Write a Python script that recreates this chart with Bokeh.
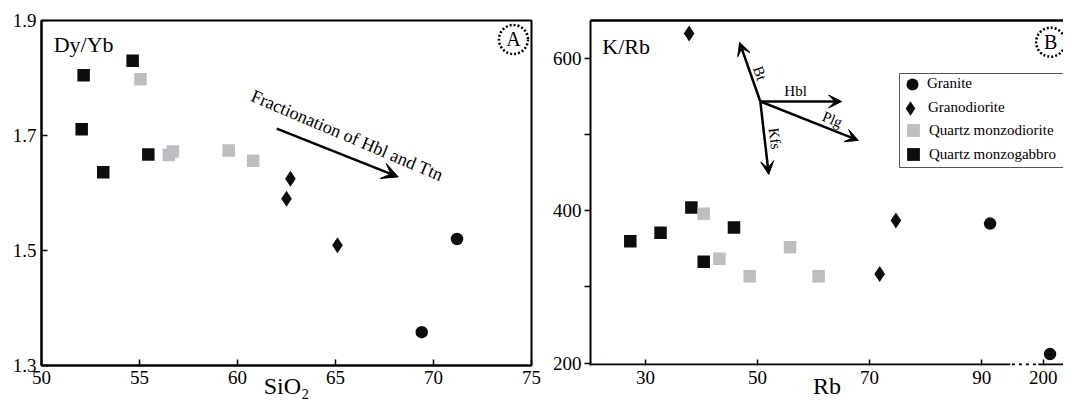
from bokeh.plotting import figure
from bokeh.models import (Range1d, FixedTicker, LinearAxis, Arrow, VeeHead,
                          Legend, LegendItem, BoxAnnotation)
from bokeh.layouts import row
from bokeh.embed import file_html
from bokeh.resources import INLINE
from bokeh.core.properties import value

SERIF = "Liberation Serif"
BLACK = "#0d0d0d"
GRAY = "#bdbec2"

# ---------------- Panel A : Dy/Yb vs SiO2 ----------------
a_granite_sio2 = [71.2, 69.4]
a_granite_dyyb = [1.520, 1.358]
a_grano_sio2 = [62.7, 62.5, 65.1]
a_grano_dyyb = [1.625, 1.590, 1.509]
a_qmd_sio2 = [55.05, 56.5, 56.7, 59.55, 60.8]
a_qmd_dyyb = [1.798, 1.666, 1.672, 1.674, 1.656]
a_qmg_sio2 = [52.15, 54.65, 52.05, 53.15, 55.45]
a_qmg_dyyb = [1.805, 1.830, 1.711, 1.636, 1.667]
a_xticks = [50, 55, 60, 65, 70, 75]
a_yticks = [1.3, 1.5, 1.7, 1.9]
a_trend_start = (62.0, 1.712)
a_trend_end = (68.2, 1.628)

# ---------------- Panel B : K/Rb vs Rb (broken axis) ----------------
b_granite_rb = [91.5, 201.2]
b_granite_krb = [383, 212]
b_grano_rb = [37.8, 74.7, 71.8]
b_grano_krb = [632, 387, 317]
b_qmd_rb = [40.4, 43.2, 48.6, 55.8, 60.9]
b_qmd_krb = [396, 337, 314, 352, 314]
b_qmg_rb = [27.3, 32.7, 38.2, 45.8, 40.4]
b_qmg_krb = [360, 371, 404, 378, 333]
b_xticks = [30, 50, 70, 90, 200]
b_yticks = [200, 300, 400, 500, 600]
b_ylabels = {200: "200", 300: "", 400: "400", 500: "", 600: "600"}
# mineral fractionation vectors: origin and end points (Rb, K/Rb)
vec_origin = (50.5, 543)
vec_names = ["Bt", "Hbl", "Plg", "Kfs"]
vec_end_rb = [46.8, 65.0, 68.0, 52.0]
vec_end_krb = [620.6, 543, 492, 447.5]
vec_lab_rb = [50.4, 56.8, 63.35, 53.1]
vec_lab_krb = [580, 557, 519.6, 494.5]
vec_lab_angle = [-70, 0, -22, -83]

BREAK_OFFSET = 99  # Rb values above the break are shifted: 200 -> 101


def rb_t(v):
    return v if v < 100 else v - BREAK_OFFSET


def style_axis(ax, size="19px"):
    ax.major_label_text_font = SERIF
    ax.major_label_text_font_size = size
    ax.major_label_text_color = "black"
    ax.axis_label_text_font = SERIF
    ax.axis_label_text_font_size = "24px"
    ax.axis_label_text_font_style = "normal"
    ax.axis_label_text_color = "black"
    ax.axis_line_width = 2
    ax.axis_line_color = "black"
    ax.major_tick_line_width = 1.5
    ax.major_tick_line_color = "black"
    ax.minor_tick_line_color = None


H = 401

# ================= Figure A =================
pA = figure(width=549, height=H, x_range=Range1d(50, 75), y_range=Range1d(1.3, 1.9),
            output_backend="svg", toolbar_location=None,
            min_border_left=41, min_border_right=18, min_border_top=20, min_border_bottom=0)
pA.grid.visible = False
pA.outline_line_color = "black"
pA.outline_line_width = 2
pA.background_fill_color = "white"

style_axis(pA.xaxis[0])
style_axis(pA.yaxis[0])
pA.xaxis[0].ticker = FixedTicker(ticks=a_xticks)
pA.yaxis[0].ticker = FixedTicker(ticks=a_yticks)
pA.yaxis[0].major_label_overrides = {t: f"{t:.1f}" for t in a_yticks}
for ax in (pA.xaxis[0], pA.yaxis[0]):
    ax.major_tick_in = 6
    ax.major_tick_out = 0
pA.xaxis[0].major_label_standoff = 5
pA.yaxis[0].major_label_standoff = 5
pA.xaxis[0].axis_label = "SiO₂"
pA.xaxis[0].axis_label_standoff = -14

pA.scatter(a_qmg_sio2, a_qmg_dyyb, marker="square", size=12.5, fill_color=BLACK, line_color=None)
pA.scatter(a_qmd_sio2, a_qmd_dyyb, marker="square", size=12.5, fill_color=GRAY, line_color=None)
pA.scatter(a_grano_sio2, a_grano_dyyb, marker="diamond", size=16, fill_color=BLACK, line_color=None)
pA.scatter(a_granite_sio2, a_granite_dyyb, marker="circle", size=12.5, fill_color=BLACK, line_color=None)

pA.text(x=[50.62], y=[1.859], text=["Dy/Yb"], text_font=value(SERIF), text_font_size="22px",
        text_baseline="middle", text_align="left", text_color="black")
pA.text(x=[65.6], y=[1.700], text=["Fractionation of Hbl and Ttn"], angle=-23, angle_units="deg",
        text_font=value(SERIF), text_font_size="18px", text_baseline="middle", text_align="center",
        text_color="black")
pA.add_layout(Arrow(end=VeeHead(size=16, fill_color="black", line_color="black"),
                    x_start=a_trend_start[0], y_start=a_trend_start[1],
                    x_end=a_trend_end[0], y_end=a_trend_end[1], line_width=2.5, line_color="black"))
# circled panel letter
pA.scatter([74.08], [1.867], marker="circle", size=29, fill_color=None, line_color="black",
           line_width=2.5, line_dash="2 2")
pA.text(x=[74.08], y=[1.867], text=["A"], text_font=value(SERIF), text_font_size="20px",
        text_baseline="middle", text_align="center", text_color="black")

# ================= Figure B =================
x0, x1 = 20.2, 104.6
y0, y1 = 197.0, 649.2
pB = figure(width=514, height=H, x_range=Range1d(x0, x1), y_range=Range1d(y0, y1),
            output_backend="svg", toolbar_location=None,
            min_border_left=40, min_border_right=0, min_border_top=20, min_border_bottom=0)
pB.grid.visible = False
pB.outline_line_color = None

style_axis(pB.xaxis[0])
style_axis(pB.yaxis[0])
bx_t = [rb_t(v) for v in b_xticks]
pB.xaxis[0].ticker = FixedTicker(ticks=bx_t)
pB.xaxis[0].major_label_overrides = {rb_t(v): str(v) for v in b_xticks}
pB.xaxis[0].major_tick_in = 6
pB.xaxis[0].major_tick_out = 0
pB.xaxis[0].axis_line_color = None
pB.xaxis[0].major_label_standoff = 5
pB.xaxis[0].axis_label = "Rb"
pB.xaxis[0].axis_label_standoff = -14
pB.yaxis[0].ticker = FixedTicker(ticks=b_yticks)
pB.yaxis[0].major_label_overrides = b_ylabels
pB.yaxis[0].major_tick_in = 0
pB.yaxis[0].major_tick_out = 6
pB.yaxis[0].major_label_standoff = 3

top_ax = LinearAxis(ticker=FixedTicker(ticks=[]), major_label_text_font_size="0px",
                    major_label_standoff=0, axis_line_width=2.5, axis_line_color="black",
                    major_tick_line_color=None, minor_tick_line_color=None)
pB.add_layout(top_ax, "above")

# broken bottom axis line (drawn just inside the frame)
yb = y0 + 1.3
pB.line([x0, 95.1], [yb, yb], line_color="black", line_width=2)
pB.line([95.4, 100.0], [yb, yb], line_color="black", line_width=2, line_dash="3 4")
pB.line([100.1, x1], [yb, yb], line_color="black", line_width=2)

r_qmg = pB.scatter([rb_t(v) for v in b_qmg_rb], b_qmg_krb, marker="square", size=12.5,
                   fill_color=BLACK, line_color=None)
r_qmd = pB.scatter([rb_t(v) for v in b_qmd_rb], b_qmd_krb, marker="square", size=12.5,
                   fill_color=GRAY, line_color=None)
r_gd = pB.scatter([rb_t(v) for v in b_grano_rb], b_grano_krb, marker="diamond", size=16,
                  fill_color=BLACK, line_color=None)
r_gr = pB.scatter([rb_t(v) for v in b_granite_rb], b_granite_krb, marker="circle", size=12.5,
                  fill_color=BLACK, line_color=None)

for ex, ey in zip(vec_end_rb, vec_end_krb):
    pB.add_layout(Arrow(end=VeeHead(size=13, fill_color="black", line_color="black"),
                        x_start=vec_origin[0], y_start=vec_origin[1], x_end=ex, y_end=ey,
                        line_width=2.5, line_color="black"))
pB.text(x=vec_lab_rb, y=vec_lab_krb, text=vec_names, angle=vec_lab_angle, angle_units="deg",
        text_font=value(SERIF), text_font_size="15px", text_baseline="middle",
        text_align="center", text_color="black")

pB.text(x=[22.3], y=[615], text=["K/Rb"], text_font=value(SERIF), text_font_size="22px",
        text_baseline="middle", text_align="left", text_color="black")
pB.scatter([102.3], [620.8], marker="circle", size=29, fill_color=None, line_color="black",
           line_width=2.5, line_dash="2 2")
pB.text(x=[102.3], y=[620.8], text=["B"], text_font=value(SERIF), text_font_size="20px",
        text_baseline="middle", text_align="center", text_color="black")

# ---- legend: framed box with one Legend per entry (frame-relative screen px) ----
FRAME_BOTTOM_OFFSET = 364  # px, frame bottom from page top
FRAME_LEFT_OFFSET = 591    # px, frame left from page left
pB.add_layout(BoxAnnotation(left=309, right=473, bottom=198, top=292,
                            left_units="screen", right_units="screen",
                            bottom_units="screen", top_units="screen",
                            fill_color="white", fill_alpha=1.0,
                            line_color="#555555", line_width=1, line_alpha=1.0))
legend_entries = [
    # label, renderer, glyph box px, item centre y, glyph centre x, text start x
    ("Granite", r_gr, 30, 82.7, 913, 927),
    ("Granodiorite", r_gd, 36, 106.7, 911, 929),
    ("Quartz monzodiorite", r_qmd, 32, 129.3, 914, 930),
    ("Quartz monzogabbro", r_qmg, 32, 153.3, 914, 930),
]
for lab, rend, g, cy, cx, tx in legend_entries:
    loc = (cx - FRAME_LEFT_OFFSET - g / 2, FRAME_BOTTOM_OFFSET - cy - g / 2)
    pB.add_layout(Legend(items=[LegendItem(label=lab, renderers=[rend])], location=loc,
                         glyph_width=g, glyph_height=g,
                         label_standoff=max(0, int(round(tx - cx - g / 2))),
                         padding=0, margin=0, spacing=0, border_line_color=None,
                         background_fill_alpha=0, label_text_font=SERIF,
                         label_text_font_size="15px", label_text_color="black"))

layout = row(pA, pB)
open("out.html", "w").write(file_html(layout, INLINE))
